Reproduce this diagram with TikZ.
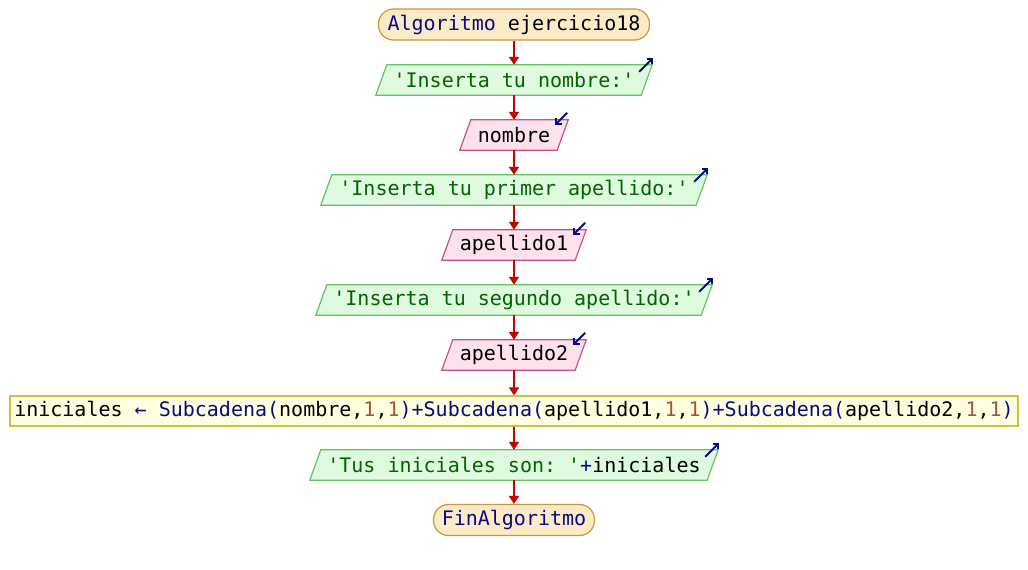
\documentclass[tikz,border=0pt]{standalone}
\usepackage{fontspec}
\setmonofont{DejaVu Sans Mono}
\usetikzlibrary{arrows.meta,backgrounds}

\definecolor{kw}{RGB}{10,10,130}
\definecolor{str}{RGB}{0,100,0}
\definecolor{num}{RGB}{165,85,55}
\definecolor{flowred}{RGB}{200,0,0}
\definecolor{iohint}{RGB}{10,10,130}
\definecolor{termfill}{RGB}{253,235,200}
\definecolor{termline}{RGB}{205,150,60}
\definecolor{outfill}{RGB}{224,250,224}
\definecolor{outline}{RGB}{100,195,100}
\definecolor{infill}{RGB}{253,225,236}
\definecolor{inline}{RGB}{200,80,140}
\definecolor{asgfill}{RGB}{255,255,224}
\definecolor{asgline}{RGB}{200,195,70}

\tikzset{
  txt/.style={font=\ttfamily\fontsize{20}{24}\selectfont, inner sep=0pt,
    minimum height=30, anchor=center},
  term/.style={txt, draw=termline, fill=termfill, line width=1.2,
    rounded corners=15, minimum height=31},
  asg/.style={txt, draw=asgline, fill=asgfill, line width=1.2},
  outshape/.style={draw=outline, fill=outfill, line width=1.2},
  inshape/.style={draw=inline, fill=infill, line width=1.2},
  flow/.style={draw=flowred, line width=1.6, -{Triangle[width=10,length=8]}},
  iohint/.style={draw=iohint, line width=1.8, -{Straight Barb[length=4,width=8]}},
}

% parallelogram behind a named node
\newcommand\slantbox[2]{%
  \begin{pgfonlayer}{background}
    \path[#1] ([xshift=11pt]#2.north west) -- (#2.north east)
      -- ([xshift=-11pt]#2.south east) -- (#2.south west) -- cycle;
  \end{pgfonlayer}}
\newcommand\outhint[1]{\draw[iohint] ([xshift=-13pt,yshift=-7pt]#1.north east) -- ++(14,-14);}
\newcommand\inhint[1]{\draw[iohint] ([xshift=-1pt,yshift=7pt]#1.north east) -- ++(-12,12);}

\begin{document}
\begin{tikzpicture}[x=1pt,y=-1pt]
  \begin{pgfonlayer}{background}
    \fill[white] (0,0) rectangle (1028,570);
  \end{pgfonlayer}
  \useasboundingbox (0,0) rectangle (1028,570);

  \node[term, minimum width=271] (s) at (514,24.5)
    {\textcolor{kw}{Algoritmo} ejercicio18};

  \node[txt, minimum width=276] (o1) at (514,80)
    {\textcolor{str}{'Inserta tu nombre:'}};
  \slantbox{outshape}{o1}

  \node[txt, minimum width=108] (i1) at (514,135) {nombre};
  \slantbox{inshape}{i1}

  \node[txt, minimum width=386] (o2) at (514,190)
    {\textcolor{str}{'Inserta tu primer apellido:'}};
  \slantbox{outshape}{o2}

  \node[txt, minimum width=144] (i2) at (514,245) {apellido1};
  \slantbox{inshape}{i2}

  \node[txt, minimum width=396] (o3) at (514,300)
    {\textcolor{str}{'Inserta tu segundo apellido:'}};
  \slantbox{outshape}{o3}

  \node[txt, minimum width=144] (i3) at (514,355) {apellido2};
  \slantbox{inshape}{i3}

  \node[asg, minimum width=1008] (a) at (514,411)
    {iniciales \textcolor{kw}{← Subcadena(}nombre,\textcolor{num}{1},\textcolor{num}{1}\textcolor{kw}{)+Subcadena(}apellido1,\textcolor{num}{1},\textcolor{num}{1}\textcolor{kw}{)+Subcadena(}apellido2,\textcolor{num}{1},\textcolor{num}{1}\textcolor{kw}{)}};

  \node[txt, minimum width=408] (o4) at (514,465)
    {\textcolor{str}{'Tus iniciales son: '}\textcolor{kw}{+}iniciales};
  \slantbox{outshape}{o4}

  \node[term, minimum width=161] (e) at (514,520) {\textcolor{kw}{FinAlgoritmo}};

  % control flow
  \draw[flow] (s.south) -- (o1.north);
  \draw[flow] (o1.south) -- (i1.north);
  \draw[flow] (i1.south) -- (o2.north);
  \draw[flow] (o2.south) -- (i2.north);
  \draw[flow] (i2.south) -- (o3.north);
  \draw[flow] (o3.south) -- (i3.north);
  \draw[flow] (i3.south) -- (a.north);
  \draw[flow] (a.south) -- (o4.north);
  \draw[flow] (o4.south) -- (e.north);

  % input/output markers
  \outhint{o1}
  \outhint{o2}
  \outhint{o3}
  \outhint{o4}
  \inhint{i1}
  \inhint{i2}
  \inhint{i3}
\end{tikzpicture}
\end{document}
